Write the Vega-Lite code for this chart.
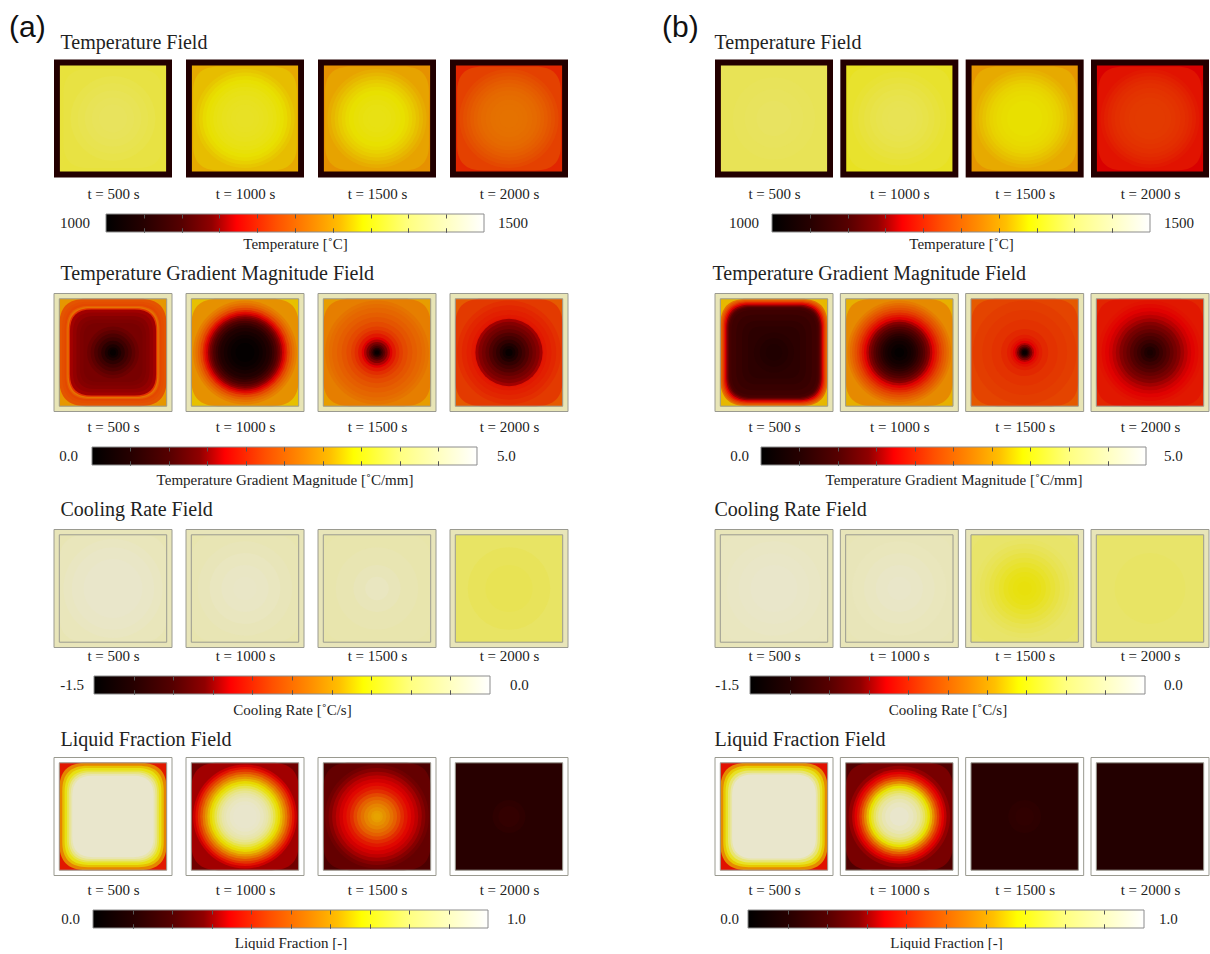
{
  "$schema": "https://vega.github.io/schema/vega-lite/v6.json",
  "background": "white",
  "padding": {"left": 9, "top": 13, "right": 0, "bottom": 0},
  "config": {"view": {"stroke": null}, "font": "Liberation Serif"},
  "datasets": {
    "bars": [
      {"f": "T", "lo": 1000, "hi": 1500, "lt": "1000", "ht": "1500"},
      {"f": "G", "lo": 0, "hi": 5, "lt": "0.0", "ht": "5.0"},
      {"f": "C", "lo": -1.5, "hi": 0, "lt": "-1.5", "ht": "0.0"},
      {"f": "L", "lo": 0, "hi": 1, "lt": "0.0", "ht": "1.0"}
    ],
    "frames": [
      {"f":"G","t":500,"w":0.5},{"f":"G","t":500,"w":0.455},{"f":"G","t":1000,"w":0.5},{"f":"G","t":1000,"w":0.455},{"f":"G","t":1500,"w":0.5},{"f":"G","t":1500,"w":0.455},{"f":"G","t":2000,"w":0.5},{"f":"G","t":2000,"w":0.455},
      {"f":"C","t":500,"w":0.5},{"f":"C","t":500,"w":0.455},{"f":"C","t":1000,"w":0.5},{"f":"C","t":1000,"w":0.455},{"f":"C","t":1500,"w":0.5},{"f":"C","t":1500,"w":0.455},{"f":"C","t":2000,"w":0.5},{"f":"C","t":2000,"w":0.455},
      {"f":"L","t":500,"w":0.5},{"f":"L","t":500,"w":0.455},{"f":"L","t":1000,"w":0.5},{"f":"L","t":1000,"w":0.455},{"f":"L","t":1500,"w":0.5},{"f":"L","t":1500,"w":0.455},{"f":"L","t":2000,"w":0.5},{"f":"L","t":2000,"w":0.455}
    ],
    "fields": [
      {"p":"a","f":"T","t":500,"k":"s","w":0.5,"v":1050},{"p":"a","f":"T","t":500,"k":"s","w":0.45,"v":1372},{"p":"a","f":"T","t":500,"k":"r","w":0.42,"v":1376},{"p":"a","f":"T","t":500,"k":"c","w":0.36,"v":1380},{"p":"a","f":"T","t":500,"k":"c","w":0.3,"v":1383},{"p":"a","f":"T","t":500,"k":"c","w":0.24,"v":1386},{"p":"a","f":"T","t":500,"k":"c","w":0.18,"v":1388},{"p":"a","f":"T","t":500,"k":"c","w":0.12,"v":1390},
      {"p":"a","f":"T","t":1000,"k":"s","w":0.5,"v":1050},{"p":"a","f":"T","t":1000,"k":"s","w":0.45,"v":1305},{"p":"a","f":"T","t":1000,"k":"r","w":0.44,"v":1318},{"p":"a","f":"T","t":1000,"k":"c","w":0.42,"v":1324},{"p":"a","f":"T","t":1000,"k":"c","w":0.39,"v":1330},{"p":"a","f":"T","t":1000,"k":"c","w":0.36,"v":1336},{"p":"a","f":"T","t":1000,"k":"c","w":0.33,"v":1341},{"p":"a","f":"T","t":1000,"k":"c","w":0.3,"v":1345},{"p":"a","f":"T","t":1000,"k":"c","w":0.27,"v":1349},{"p":"a","f":"T","t":1000,"k":"c","w":0.24,"v":1352},{"p":"a","f":"T","t":1000,"k":"c","w":0.2,"v":1355},{"p":"a","f":"T","t":1000,"k":"c","w":0.16,"v":1357},{"p":"a","f":"T","t":1000,"k":"c","w":0.12,"v":1359},{"p":"a","f":"T","t":1000,"k":"c","w":0.08,"v":1360},
      {"p":"a","f":"T","t":1500,"k":"s","w":0.5,"v":1050},{"p":"a","f":"T","t":1500,"k":"s","w":0.45,"v":1285},{"p":"a","f":"T","t":1500,"k":"r","w":0.44,"v":1300},{"p":"a","f":"T","t":1500,"k":"c","w":0.42,"v":1307},{"p":"a","f":"T","t":1500,"k":"c","w":0.39,"v":1314},{"p":"a","f":"T","t":1500,"k":"c","w":0.36,"v":1320},{"p":"a","f":"T","t":1500,"k":"c","w":0.33,"v":1326},{"p":"a","f":"T","t":1500,"k":"c","w":0.3,"v":1331},{"p":"a","f":"T","t":1500,"k":"c","w":0.27,"v":1336},{"p":"a","f":"T","t":1500,"k":"c","w":0.24,"v":1340},{"p":"a","f":"T","t":1500,"k":"c","w":0.2,"v":1344},{"p":"a","f":"T","t":1500,"k":"c","w":0.16,"v":1347},{"p":"a","f":"T","t":1500,"k":"c","w":0.12,"v":1349},{"p":"a","f":"T","t":1500,"k":"c","w":0.08,"v":1350},
      {"p":"a","f":"T","t":2000,"k":"s","w":0.5,"v":1050},{"p":"a","f":"T","t":2000,"k":"s","w":0.45,"v":1200},{"p":"a","f":"T","t":2000,"k":"r","w":0.44,"v":1220},{"p":"a","f":"T","t":2000,"k":"c","w":0.42,"v":1226},{"p":"a","f":"T","t":2000,"k":"c","w":0.39,"v":1232},{"p":"a","f":"T","t":2000,"k":"c","w":0.36,"v":1237},{"p":"a","f":"T","t":2000,"k":"c","w":0.33,"v":1242},{"p":"a","f":"T","t":2000,"k":"c","w":0.3,"v":1246},{"p":"a","f":"T","t":2000,"k":"c","w":0.27,"v":1250},{"p":"a","f":"T","t":2000,"k":"c","w":0.24,"v":1253},{"p":"a","f":"T","t":2000,"k":"c","w":0.2,"v":1256},{"p":"a","f":"T","t":2000,"k":"c","w":0.16,"v":1258},{"p":"a","f":"T","t":2000,"k":"c","w":0.12,"v":1259},{"p":"a","f":"T","t":2000,"k":"c","w":0.08,"v":1260},
      {"p":"b","f":"T","t":500,"k":"s","w":0.5,"v":1050},{"p":"b","f":"T","t":500,"k":"s","w":0.45,"v":1386},{"p":"b","f":"T","t":500,"k":"c","w":0.35,"v":1388},{"p":"b","f":"T","t":500,"k":"c","w":0.25,"v":1390},{"p":"b","f":"T","t":500,"k":"c","w":0.15,"v":1392},
      {"p":"b","f":"T","t":1000,"k":"s","w":0.5,"v":1050},{"p":"b","f":"T","t":1000,"k":"s","w":0.45,"v":1358},{"p":"b","f":"T","t":1000,"k":"r","w":0.44,"v":1364},{"p":"b","f":"T","t":1000,"k":"c","w":0.4,"v":1368},{"p":"b","f":"T","t":1000,"k":"c","w":0.35,"v":1372},{"p":"b","f":"T","t":1000,"k":"c","w":0.3,"v":1376},{"p":"b","f":"T","t":1000,"k":"c","w":0.25,"v":1379},{"p":"b","f":"T","t":1000,"k":"c","w":0.2,"v":1382},{"p":"b","f":"T","t":1000,"k":"c","w":0.15,"v":1384},{"p":"b","f":"T","t":1000,"k":"c","w":0.1,"v":1385},
      {"p":"b","f":"T","t":1500,"k":"s","w":0.5,"v":1050},{"p":"b","f":"T","t":1500,"k":"s","w":0.45,"v":1290},{"p":"b","f":"T","t":1500,"k":"r","w":0.44,"v":1305},{"p":"b","f":"T","t":1500,"k":"c","w":0.42,"v":1311},{"p":"b","f":"T","t":1500,"k":"c","w":0.39,"v":1317},{"p":"b","f":"T","t":1500,"k":"c","w":0.36,"v":1322},{"p":"b","f":"T","t":1500,"k":"c","w":0.33,"v":1327},{"p":"b","f":"T","t":1500,"k":"c","w":0.3,"v":1331},{"p":"b","f":"T","t":1500,"k":"c","w":0.27,"v":1334},{"p":"b","f":"T","t":1500,"k":"c","w":0.24,"v":1336},{"p":"b","f":"T","t":1500,"k":"c","w":0.2,"v":1338},{"p":"b","f":"T","t":1500,"k":"c","w":0.15,"v":1340},
      {"p":"b","f":"T","t":2000,"k":"s","w":0.5,"v":1050},{"p":"b","f":"T","t":2000,"k":"s","w":0.45,"v":1170},{"p":"b","f":"T","t":2000,"k":"r","w":0.44,"v":1186},{"p":"b","f":"T","t":2000,"k":"c","w":0.42,"v":1191},{"p":"b","f":"T","t":2000,"k":"c","w":0.39,"v":1196},{"p":"b","f":"T","t":2000,"k":"c","w":0.36,"v":1200},{"p":"b","f":"T","t":2000,"k":"c","w":0.33,"v":1204},{"p":"b","f":"T","t":2000,"k":"c","w":0.3,"v":1207},{"p":"b","f":"T","t":2000,"k":"c","w":0.26,"v":1210},{"p":"b","f":"T","t":2000,"k":"c","w":0.22,"v":1212},{"p":"b","f":"T","t":2000,"k":"c","w":0.18,"v":1214},{"p":"b","f":"T","t":2000,"k":"c","w":0.13,"v":1215},

      {"p":"a","f":"G","t":500,"k":"s","w":0.5,"v":4.7},{"p":"a","f":"G","t":500,"k":"s","w":0.455,"v":2.9},{"p":"a","f":"G","t":500,"k":"r","w":0.455,"v":2.35},{"p":"a","f":"G","t":500,"k":"r","w":0.43,"v":2.3},{"p":"a","f":"G","t":500,"k":"r","w":0.41,"v":2.25},{"p":"a","f":"G","t":500,"k":"r","w":0.395,"v":2.45},{"p":"a","f":"G","t":500,"k":"r","w":0.385,"v":2.6},{"p":"a","f":"G","t":500,"k":"r","w":0.375,"v":2.1},{"p":"a","f":"G","t":500,"k":"r","w":0.365,"v":1.5},{"p":"a","f":"G","t":500,"k":"r","w":0.34,"v":1.45},{"p":"a","f":"G","t":500,"k":"r","w":0.31,"v":1.4},{"p":"a","f":"G","t":500,"k":"r","w":0.28,"v":1.35},{"p":"a","f":"G","t":500,"k":"r","w":0.25,"v":1.3},{"p":"a","f":"G","t":500,"k":"c","w":0.22,"v":1.2},{"p":"a","f":"G","t":500,"k":"c","w":0.19,"v":1.1},{"p":"a","f":"G","t":500,"k":"c","w":0.16,"v":0.95},{"p":"a","f":"G","t":500,"k":"c","w":0.13,"v":0.8},{"p":"a","f":"G","t":500,"k":"c","w":0.1,"v":0.6},{"p":"a","f":"G","t":500,"k":"c","w":0.07,"v":0.4},{"p":"a","f":"G","t":500,"k":"c","w":0.045,"v":0.22},{"p":"a","f":"G","t":500,"k":"c","w":0.025,"v":0.08},
      {"p":"a","f":"G","t":1000,"k":"s","w":0.5,"v":4.7},{"p":"a","f":"G","t":1000,"k":"s","w":0.455,"v":3.2},{"p":"a","f":"G","t":1000,"k":"r","w":0.455,"v":2.85},{"p":"a","f":"G","t":1000,"k":"c","w":0.44,"v":2.72},{"p":"a","f":"G","t":1000,"k":"c","w":0.42,"v":2.6},{"p":"a","f":"G","t":1000,"k":"c","w":0.4,"v":2.45},{"p":"a","f":"G","t":1000,"k":"c","w":0.38,"v":2.25},{"p":"a","f":"G","t":1000,"k":"c","w":0.36,"v":2.02},{"p":"a","f":"G","t":1000,"k":"c","w":0.345,"v":1.82},{"p":"a","f":"G","t":1000,"k":"c","w":0.33,"v":1.65},{"p":"a","f":"G","t":1000,"k":"c","w":0.315,"v":1.47},{"p":"a","f":"G","t":1000,"k":"c","w":0.3,"v":1.3},{"p":"a","f":"G","t":1000,"k":"c","w":0.285,"v":1.13},{"p":"a","f":"G","t":1000,"k":"c","w":0.27,"v":0.95},{"p":"a","f":"G","t":1000,"k":"c","w":0.25,"v":0.75},{"p":"a","f":"G","t":1000,"k":"c","w":0.23,"v":0.58},{"p":"a","f":"G","t":1000,"k":"c","w":0.21,"v":0.45},{"p":"a","f":"G","t":1000,"k":"c","w":0.18,"v":0.33},{"p":"a","f":"G","t":1000,"k":"c","w":0.15,"v":0.22},{"p":"a","f":"G","t":1000,"k":"c","w":0.12,"v":0.13},{"p":"a","f":"G","t":1000,"k":"c","w":0.08,"v":0.06},
      {"p":"a","f":"G","t":1500,"k":"s","w":0.5,"v":4.7},{"p":"a","f":"G","t":1500,"k":"s","w":0.455,"v":2.95},{"p":"a","f":"G","t":1500,"k":"r","w":0.455,"v":2.7},{"p":"a","f":"G","t":1500,"k":"c","w":0.44,"v":2.62},{"p":"a","f":"G","t":1500,"k":"c","w":0.41,"v":2.56},{"p":"a","f":"G","t":1500,"k":"c","w":0.38,"v":2.5},{"p":"a","f":"G","t":1500,"k":"c","w":0.34,"v":2.43},{"p":"a","f":"G","t":1500,"k":"c","w":0.3,"v":2.36},{"p":"a","f":"G","t":1500,"k":"c","w":0.26,"v":2.27},{"p":"a","f":"G","t":1500,"k":"c","w":0.22,"v":2.17},{"p":"a","f":"G","t":1500,"k":"c","w":0.19,"v":2.05},{"p":"a","f":"G","t":1500,"k":"c","w":0.16,"v":1.9},{"p":"a","f":"G","t":1500,"k":"c","w":0.13,"v":1.72},{"p":"a","f":"G","t":1500,"k":"c","w":0.11,"v":1.55},{"p":"a","f":"G","t":1500,"k":"c","w":0.09,"v":1.35},{"p":"a","f":"G","t":1500,"k":"c","w":0.07,"v":1.1},{"p":"a","f":"G","t":1500,"k":"c","w":0.055,"v":0.85},{"p":"a","f":"G","t":1500,"k":"c","w":0.04,"v":0.55},{"p":"a","f":"G","t":1500,"k":"c","w":0.028,"v":0.3},{"p":"a","f":"G","t":1500,"k":"c","w":0.018,"v":0.1},
      {"p":"a","f":"G","t":2000,"k":"s","w":0.5,"v":4.7},{"p":"a","f":"G","t":2000,"k":"s","w":0.455,"v":2.4},{"p":"a","f":"G","t":2000,"k":"r","w":0.455,"v":2.15},{"p":"a","f":"G","t":2000,"k":"c","w":0.44,"v":2.07},{"p":"a","f":"G","t":2000,"k":"c","w":0.4,"v":2.0},{"p":"a","f":"G","t":2000,"k":"c","w":0.36,"v":1.95},{"p":"a","f":"G","t":2000,"k":"c","w":0.32,"v":1.9},{"p":"a","f":"G","t":2000,"k":"c","w":0.295,"v":1.86},{"p":"a","f":"G","t":2000,"k":"c","w":0.285,"v":1.5},{"p":"a","f":"G","t":2000,"k":"c","w":0.26,"v":1.4},{"p":"a","f":"G","t":2000,"k":"c","w":0.23,"v":1.28},{"p":"a","f":"G","t":2000,"k":"c","w":0.2,"v":1.15},{"p":"a","f":"G","t":2000,"k":"c","w":0.17,"v":1.0},{"p":"a","f":"G","t":2000,"k":"c","w":0.14,"v":0.83},{"p":"a","f":"G","t":2000,"k":"c","w":0.11,"v":0.65},{"p":"a","f":"G","t":2000,"k":"c","w":0.08,"v":0.45},{"p":"a","f":"G","t":2000,"k":"c","w":0.055,"v":0.28},{"p":"a","f":"G","t":2000,"k":"c","w":0.03,"v":0.12},
      {"p":"b","f":"G","t":500,"k":"s","w":0.5,"v":4.7},{"p":"b","f":"G","t":500,"k":"s","w":0.455,"v":3.15},{"p":"b","f":"G","t":500,"k":"r","w":0.455,"v":2.6},{"p":"b","f":"G","t":500,"k":"r","w":0.445,"v":2.4},{"p":"b","f":"G","t":500,"k":"r","w":0.435,"v":2.2},{"p":"b","f":"G","t":500,"k":"r","w":0.425,"v":1.95},{"p":"b","f":"G","t":500,"k":"r","w":0.415,"v":1.7},{"p":"b","f":"G","t":500,"k":"r","w":0.405,"v":1.45},{"p":"b","f":"G","t":500,"k":"r","w":0.395,"v":1.2},{"p":"b","f":"G","t":500,"k":"r","w":0.385,"v":1.0},{"p":"b","f":"G","t":500,"k":"r","w":0.375,"v":0.88},{"p":"b","f":"G","t":500,"k":"r","w":0.36,"v":0.8},{"p":"b","f":"G","t":500,"k":"r","w":0.32,"v":0.72},{"p":"b","f":"G","t":500,"k":"r","w":0.27,"v":0.65},{"p":"b","f":"G","t":500,"k":"r","w":0.22,"v":0.6},{"p":"b","f":"G","t":500,"k":"c","w":0.17,"v":0.55},{"p":"b","f":"G","t":500,"k":"c","w":0.12,"v":0.5},{"p":"b","f":"G","t":500,"k":"c","w":0.07,"v":0.45},
      {"p":"b","f":"G","t":1000,"k":"s","w":0.5,"v":4.7},{"p":"b","f":"G","t":1000,"k":"s","w":0.455,"v":3.1},{"p":"b","f":"G","t":1000,"k":"r","w":0.455,"v":2.8},{"p":"b","f":"G","t":1000,"k":"c","w":0.44,"v":2.68},{"p":"b","f":"G","t":1000,"k":"c","w":0.42,"v":2.57},{"p":"b","f":"G","t":1000,"k":"c","w":0.4,"v":2.45},{"p":"b","f":"G","t":1000,"k":"c","w":0.38,"v":2.33},{"p":"b","f":"G","t":1000,"k":"c","w":0.36,"v":2.2},{"p":"b","f":"G","t":1000,"k":"c","w":0.34,"v":2.05},{"p":"b","f":"G","t":1000,"k":"c","w":0.32,"v":1.9},{"p":"b","f":"G","t":1000,"k":"c","w":0.3,"v":1.75},{"p":"b","f":"G","t":1000,"k":"c","w":0.28,"v":1.57},{"p":"b","f":"G","t":1000,"k":"c","w":0.26,"v":1.4},{"p":"b","f":"G","t":1000,"k":"c","w":0.24,"v":1.22},{"p":"b","f":"G","t":1000,"k":"c","w":0.22,"v":1.05},{"p":"b","f":"G","t":1000,"k":"c","w":0.2,"v":0.9},{"p":"b","f":"G","t":1000,"k":"c","w":0.18,"v":0.75},{"p":"b","f":"G","t":1000,"k":"c","w":0.16,"v":0.6},{"p":"b","f":"G","t":1000,"k":"c","w":0.14,"v":0.47},{"p":"b","f":"G","t":1000,"k":"c","w":0.12,"v":0.35},{"p":"b","f":"G","t":1000,"k":"c","w":0.1,"v":0.25},{"p":"b","f":"G","t":1000,"k":"c","w":0.07,"v":0.14},{"p":"b","f":"G","t":1000,"k":"c","w":0.04,"v":0.06},
      {"p":"b","f":"G","t":1500,"k":"s","w":0.5,"v":4.7},{"p":"b","f":"G","t":1500,"k":"s","w":0.455,"v":2.4},{"p":"b","f":"G","t":1500,"k":"r","w":0.455,"v":2.22},{"p":"b","f":"G","t":1500,"k":"c","w":0.44,"v":2.17},{"p":"b","f":"G","t":1500,"k":"c","w":0.36,"v":2.13},{"p":"b","f":"G","t":1500,"k":"c","w":0.28,"v":2.09},{"p":"b","f":"G","t":1500,"k":"c","w":0.2,"v":2.02},{"p":"b","f":"G","t":1500,"k":"c","w":0.15,"v":1.94},{"p":"b","f":"G","t":1500,"k":"c","w":0.12,"v":1.85},{"p":"b","f":"G","t":1500,"k":"c","w":0.1,"v":1.73},{"p":"b","f":"G","t":1500,"k":"c","w":0.08,"v":1.55},{"p":"b","f":"G","t":1500,"k":"c","w":0.065,"v":1.3},{"p":"b","f":"G","t":1500,"k":"c","w":0.05,"v":1.0},{"p":"b","f":"G","t":1500,"k":"c","w":0.038,"v":0.65},{"p":"b","f":"G","t":1500,"k":"c","w":0.027,"v":0.3},{"p":"b","f":"G","t":1500,"k":"c","w":0.018,"v":0.1},
      {"p":"b","f":"G","t":2000,"k":"s","w":0.5,"v":4.7},{"p":"b","f":"G","t":2000,"k":"s","w":0.455,"v":2.0},{"p":"b","f":"G","t":2000,"k":"r","w":0.455,"v":1.9},{"p":"b","f":"G","t":2000,"k":"c","w":0.44,"v":1.86},{"p":"b","f":"G","t":2000,"k":"c","w":0.41,"v":1.8},{"p":"b","f":"G","t":2000,"k":"c","w":0.38,"v":1.74},{"p":"b","f":"G","t":2000,"k":"c","w":0.35,"v":1.67},{"p":"b","f":"G","t":2000,"k":"c","w":0.32,"v":1.59},{"p":"b","f":"G","t":2000,"k":"c","w":0.29,"v":1.5},{"p":"b","f":"G","t":2000,"k":"c","w":0.26,"v":1.4},{"p":"b","f":"G","t":2000,"k":"c","w":0.23,"v":1.28},{"p":"b","f":"G","t":2000,"k":"c","w":0.2,"v":1.16},{"p":"b","f":"G","t":2000,"k":"c","w":0.17,"v":1.03},{"p":"b","f":"G","t":2000,"k":"c","w":0.14,"v":0.9},{"p":"b","f":"G","t":2000,"k":"c","w":0.11,"v":0.75},{"p":"b","f":"G","t":2000,"k":"c","w":0.08,"v":0.6},{"p":"b","f":"G","t":2000,"k":"c","w":0.05,"v":0.45},{"p":"b","f":"G","t":2000,"k":"c","w":0.025,"v":0.35},

      {"p":"a","f":"C","t":500,"k":"s","w":0.5,"v":-0.08},{"p":"a","f":"C","t":500,"k":"s","w":0.455,"v":-0.1},{"p":"a","f":"C","t":500,"k":"r","w":0.455,"v":-0.07},{"p":"a","f":"C","t":500,"k":"c","w":0.42,"v":-0.045},{"p":"a","f":"C","t":500,"k":"c","w":0.35,"v":-0.025},{"p":"a","f":"C","t":500,"k":"c","w":0.25,"v":-0.01},
      {"p":"a","f":"C","t":1000,"k":"s","w":0.5,"v":-0.08},{"p":"a","f":"C","t":1000,"k":"s","w":0.455,"v":-0.12},{"p":"a","f":"C","t":1000,"k":"r","w":0.455,"v":-0.1},{"p":"a","f":"C","t":1000,"k":"c","w":0.4,"v":-0.08},{"p":"a","f":"C","t":1000,"k":"c","w":0.3,"v":-0.055},{"p":"a","f":"C","t":1000,"k":"c","w":0.2,"v":-0.035},{"p":"a","f":"C","t":1000,"k":"c","w":0.1,"v":-0.025},
      {"p":"a","f":"C","t":1500,"k":"s","w":0.5,"v":-0.08},{"p":"a","f":"C","t":1500,"k":"s","w":0.455,"v":-0.14},{"p":"a","f":"C","t":1500,"k":"r","w":0.455,"v":-0.13},{"p":"a","f":"C","t":1500,"k":"c","w":0.35,"v":-0.11},{"p":"a","f":"C","t":1500,"k":"c","w":0.2,"v":-0.08},{"p":"a","f":"C","t":1500,"k":"c","w":0.1,"v":-0.05},
      {"p":"a","f":"C","t":2000,"k":"s","w":0.5,"v":-0.08},{"p":"a","f":"C","t":2000,"k":"s","w":0.455,"v":-0.32},{"p":"a","f":"C","t":2000,"k":"c","w":0.35,"v":-0.335},{"p":"a","f":"C","t":2000,"k":"c","w":0.2,"v":-0.345},
      {"p":"b","f":"C","t":500,"k":"s","w":0.5,"v":-0.08},{"p":"b","f":"C","t":500,"k":"s","w":0.455,"v":-0.06},{"p":"b","f":"C","t":500,"k":"r","w":0.455,"v":-0.05},{"p":"b","f":"C","t":500,"k":"c","w":0.4,"v":-0.035},{"p":"b","f":"C","t":500,"k":"c","w":0.3,"v":-0.02},{"p":"b","f":"C","t":500,"k":"c","w":0.2,"v":-0.01},
      {"p":"b","f":"C","t":1000,"k":"s","w":0.5,"v":-0.08},{"p":"b","f":"C","t":1000,"k":"s","w":0.455,"v":-0.09},{"p":"b","f":"C","t":1000,"k":"r","w":0.455,"v":-0.08},{"p":"b","f":"C","t":1000,"k":"c","w":0.4,"v":-0.065},{"p":"b","f":"C","t":1000,"k":"c","w":0.3,"v":-0.045},{"p":"b","f":"C","t":1000,"k":"c","w":0.2,"v":-0.025},{"p":"b","f":"C","t":1000,"k":"c","w":0.1,"v":-0.012},
      {"p":"b","f":"C","t":1500,"k":"s","w":0.5,"v":-0.08},{"p":"b","f":"C","t":1500,"k":"s","w":0.455,"v":-0.3},{"p":"b","f":"C","t":1500,"k":"r","w":0.455,"v":-0.31},{"p":"b","f":"C","t":1500,"k":"c","w":0.42,"v":-0.32},{"p":"b","f":"C","t":1500,"k":"c","w":0.38,"v":-0.335},{"p":"b","f":"C","t":1500,"k":"c","w":0.34,"v":-0.35},{"p":"b","f":"C","t":1500,"k":"c","w":0.3,"v":-0.37},{"p":"b","f":"C","t":1500,"k":"c","w":0.26,"v":-0.39},{"p":"b","f":"C","t":1500,"k":"c","w":0.22,"v":-0.41},{"p":"b","f":"C","t":1500,"k":"c","w":0.18,"v":-0.43},{"p":"b","f":"C","t":1500,"k":"c","w":0.14,"v":-0.445},{"p":"b","f":"C","t":1500,"k":"c","w":0.1,"v":-0.455},{"p":"b","f":"C","t":1500,"k":"c","w":0.06,"v":-0.46},
      {"p":"b","f":"C","t":2000,"k":"s","w":0.5,"v":-0.08},{"p":"b","f":"C","t":2000,"k":"s","w":0.455,"v":-0.31},{"p":"b","f":"C","t":2000,"k":"c","w":0.3,"v":-0.32},

      {"p":"a","f":"L","t":500,"k":"s","w":0.455,"v":0.38},{"p":"a","f":"L","t":500,"k":"r","w":0.455,"v":0.55},{"p":"a","f":"L","t":500,"k":"r","w":0.43,"v":0.64},{"p":"a","f":"L","t":500,"k":"r","w":0.41,"v":0.7},{"p":"a","f":"L","t":500,"k":"r","w":0.39,"v":0.76},{"p":"a","f":"L","t":500,"k":"r","w":0.375,"v":0.84},{"p":"a","f":"L","t":500,"k":"r","w":0.36,"v":0.92},{"p":"a","f":"L","t":500,"k":"r","w":0.345,"v":1.0},
      {"p":"a","f":"L","t":1000,"k":"s","w":0.455,"v":0.25},{"p":"a","f":"L","t":1000,"k":"r","w":0.455,"v":0.3},{"p":"a","f":"L","t":1000,"k":"c","w":0.44,"v":0.33},{"p":"a","f":"L","t":1000,"k":"c","w":0.42,"v":0.37},{"p":"a","f":"L","t":1000,"k":"c","w":0.4,"v":0.42},{"p":"a","f":"L","t":1000,"k":"c","w":0.38,"v":0.47},{"p":"a","f":"L","t":1000,"k":"c","w":0.36,"v":0.53},{"p":"a","f":"L","t":1000,"k":"c","w":0.34,"v":0.58},{"p":"a","f":"L","t":1000,"k":"c","w":0.32,"v":0.63},{"p":"a","f":"L","t":1000,"k":"c","w":0.3,"v":0.67},{"p":"a","f":"L","t":1000,"k":"c","w":0.28,"v":0.71},{"p":"a","f":"L","t":1000,"k":"c","w":0.26,"v":0.76},{"p":"a","f":"L","t":1000,"k":"c","w":0.24,"v":0.81},{"p":"a","f":"L","t":1000,"k":"c","w":0.22,"v":0.86},{"p":"a","f":"L","t":1000,"k":"c","w":0.2,"v":0.9},{"p":"a","f":"L","t":1000,"k":"c","w":0.18,"v":0.93},{"p":"a","f":"L","t":1000,"k":"c","w":0.16,"v":0.96},{"p":"a","f":"L","t":1000,"k":"c","w":0.13,"v":0.99},{"p":"a","f":"L","t":1000,"k":"c","w":0.1,"v":1.0},
      {"p":"a","f":"L","t":1500,"k":"s","w":0.455,"v":0.19},{"p":"a","f":"L","t":1500,"k":"r","w":0.455,"v":0.23},{"p":"a","f":"L","t":1500,"k":"c","w":0.44,"v":0.25},{"p":"a","f":"L","t":1500,"k":"c","w":0.41,"v":0.28},{"p":"a","f":"L","t":1500,"k":"c","w":0.38,"v":0.3},{"p":"a","f":"L","t":1500,"k":"c","w":0.35,"v":0.32},{"p":"a","f":"L","t":1500,"k":"c","w":0.32,"v":0.335},{"p":"a","f":"L","t":1500,"k":"c","w":0.29,"v":0.355},{"p":"a","f":"L","t":1500,"k":"c","w":0.26,"v":0.38},{"p":"a","f":"L","t":1500,"k":"c","w":0.23,"v":0.41},{"p":"a","f":"L","t":1500,"k":"c","w":0.2,"v":0.45},{"p":"a","f":"L","t":1500,"k":"c","w":0.17,"v":0.49},{"p":"a","f":"L","t":1500,"k":"c","w":0.14,"v":0.52},{"p":"a","f":"L","t":1500,"k":"c","w":0.11,"v":0.55},{"p":"a","f":"L","t":1500,"k":"c","w":0.08,"v":0.57},{"p":"a","f":"L","t":1500,"k":"c","w":0.05,"v":0.59},{"p":"a","f":"L","t":1500,"k":"c","w":0.03,"v":0.6},
      {"p":"a","f":"L","t":2000,"k":"s","w":0.455,"v":0.11},{"p":"a","f":"L","t":2000,"k":"c","w":0.14,"v":0.125},{"p":"a","f":"L","t":2000,"k":"c","w":0.09,"v":0.135},
      {"p":"b","f":"L","t":500,"k":"s","w":0.455,"v":0.37},{"p":"b","f":"L","t":500,"k":"r","w":0.455,"v":0.56},{"p":"b","f":"L","t":500,"k":"r","w":0.43,"v":0.65},{"p":"b","f":"L","t":500,"k":"r","w":0.41,"v":0.72},{"p":"b","f":"L","t":500,"k":"r","w":0.39,"v":0.8},{"p":"b","f":"L","t":500,"k":"r","w":0.37,"v":0.9},{"p":"b","f":"L","t":500,"k":"r","w":0.355,"v":1.0},
      {"p":"b","f":"L","t":1000,"k":"s","w":0.455,"v":0.2},{"p":"b","f":"L","t":1000,"k":"r","w":0.455,"v":0.26},{"p":"b","f":"L","t":1000,"k":"c","w":0.43,"v":0.29},{"p":"b","f":"L","t":1000,"k":"c","w":0.4,"v":0.32},{"p":"b","f":"L","t":1000,"k":"c","w":0.38,"v":0.345},{"p":"b","f":"L","t":1000,"k":"c","w":0.36,"v":0.38},{"p":"b","f":"L","t":1000,"k":"c","w":0.34,"v":0.43},{"p":"b","f":"L","t":1000,"k":"c","w":0.32,"v":0.49},{"p":"b","f":"L","t":1000,"k":"c","w":0.3,"v":0.56},{"p":"b","f":"L","t":1000,"k":"c","w":0.28,"v":0.63},{"p":"b","f":"L","t":1000,"k":"c","w":0.26,"v":0.68},{"p":"b","f":"L","t":1000,"k":"c","w":0.24,"v":0.73},{"p":"b","f":"L","t":1000,"k":"c","w":0.22,"v":0.78},{"p":"b","f":"L","t":1000,"k":"c","w":0.2,"v":0.83},{"p":"b","f":"L","t":1000,"k":"c","w":0.18,"v":0.88},{"p":"b","f":"L","t":1000,"k":"c","w":0.15,"v":0.93},{"p":"b","f":"L","t":1000,"k":"c","w":0.12,"v":0.97},{"p":"b","f":"L","t":1000,"k":"c","w":0.08,"v":1.0},
      {"p":"b","f":"L","t":1500,"k":"s","w":0.455,"v":0.11},{"p":"b","f":"L","t":1500,"k":"c","w":0.14,"v":0.122},{"p":"b","f":"L","t":1500,"k":"c","w":0.08,"v":0.128},
      {"p":"b","f":"L","t":2000,"k":"s","w":0.455,"v":0.1}
    ]
  },
  "columns": 2,
  "align": "each",
  "spacing": {"row": 11, "column": 91},
  "resolve": {"scale": {"color": "independent"}},
  "concat": [
    {
      "width": 559, "height": 119,
      "title": {"text": "(a)", "anchor": "start", "frame": "group", "offset": -11, "font": "Liberation Sans", "fontSize": 30, "fontWeight": "normal", "color": "#111111"},
      "data": {"name": "fields"},
      "transform": [{"filter": "datum.p === 'a' && datum.f === 'T'"}],
      "mark": {"type": "point", "filled": true, "opacity": 1, "strokeWidth": 0},
      "encoding": {
        "x": {"field": "t", "type": "quantitative", "scale": {"domain": [106.06, 2223.48], "nice": false, "zero": false},
              "axis": {"values": [500, 1000, 1500, 2000], "labelExpr": "'t = ' + datum.value + ' s'", "domain": false, "ticks": false, "grid": false, "title": null, "labelFont": "Liberation Serif", "labelFontSize": 15, "labelColor": "#222222", "labelPadding": 8.5, "labelFlush": false, "labelOverlap": false}},
        "y": {"field": "f", "type": "nominal", "scale": {"type": "point"},
              "axis": {"title": "Temperature Field", "titleAngle": 0, "titleX": 51, "titleY": -11, "titleAlign": "left", "titleBaseline": "alphabetic", "titleFont": "Liberation Serif", "titleFontSize": 20, "titleFontWeight": "normal", "titleColor": "#222222", "labels": false, "ticks": false, "domain": false, "grid": false, "minExtent": 0, "maxExtent": 0}},
        "size": {"field": "w", "type": "quantitative", "scale": {"type": "pow", "exponent": 2, "domain": [0, 0.5], "range": [0, 13924]}, "legend": null},
        "shape": {"field": "k", "type": "nominal", "scale": {"domain": ["s", "r", "c"], "range": ["square", "M-1,-0.5C-1,-0.84 -0.84,-1 -0.5,-1L0.5,-1C0.84,-1 1,-0.84 1,-0.5L1,0.5C1,0.84 0.84,1 0.5,1L-0.5,1C-0.84,1 -1,0.84 -1,0.5Z", "circle"]}, "legend": null},
        "color": {"field": "v", "type": "quantitative", "scale": {"domain": [1000, 1050, 1100, 1140, 1172.5, 1225, 1275, 1310, 1340, 1400, 1450, 1500], "range": ["#000000", "#230000", "#500000", "#850000", "#e00000", "#e44800", "#e68400", "#e7b000", "#e8e000", "#e8e470", "#e8e5a8", "#e9e6cc"], "interpolate": "rgb"}, "legend": null},
        "order": {"field": "w", "sort": "descending"}
      }
    },
    {
      "width": 547, "height": 119,
      "title": {"text": "(b)", "anchor": "start", "frame": "group", "offset": -11, "font": "Liberation Sans", "fontSize": 30, "fontWeight": "normal", "color": "#111111"},
      "data": {"name": "fields"},
      "transform": [{"filter": "datum.p === 'b' && datum.f === 'T'"}],
      "mark": {"type": "point", "filled": true, "opacity": 1, "strokeWidth": 0},
      "encoding": {
        "x": {"field": "t", "type": "quantitative", "scale": {"domain": [53.19, 2235.37], "nice": false, "zero": false},
              "axis": {"values": [500, 1000, 1500, 2000], "labelExpr": "'t = ' + datum.value + ' s'", "domain": false, "ticks": false, "grid": false, "title": null, "labelFont": "Liberation Serif", "labelFontSize": 15, "labelColor": "#222222", "labelPadding": 8.5, "labelFlush": false, "labelOverlap": false}},
        "y": {"field": "f", "type": "nominal", "scale": {"type": "point"},
              "axis": {"title": "Temperature Field", "titleAngle": 0, "titleX": 52, "titleY": -11, "titleAlign": "left", "titleBaseline": "alphabetic", "titleFont": "Liberation Serif", "titleFontSize": 20, "titleFontWeight": "normal", "titleColor": "#222222", "labels": false, "ticks": false, "domain": false, "grid": false, "minExtent": 0, "maxExtent": 0}},
        "size": {"field": "w", "type": "quantitative", "scale": {"type": "pow", "exponent": 2, "domain": [0, 0.5], "range": [0, 13924]}, "legend": null},
        "shape": {"field": "k", "type": "nominal", "scale": {"domain": ["s", "r", "c"], "range": ["square", "M-1,-0.5C-1,-0.84 -0.84,-1 -0.5,-1L0.5,-1C0.84,-1 1,-0.84 1,-0.5L1,0.5C1,0.84 0.84,1 0.5,1L-0.5,1C-0.84,1 -1,0.84 -1,0.5Z", "circle"]}, "legend": null},
        "color": {"field": "v", "type": "quantitative", "scale": {"domain": [1000, 1050, 1100, 1140, 1172.5, 1225, 1275, 1310, 1340, 1400, 1450, 1500], "range": ["#000000", "#230000", "#500000", "#850000", "#e00000", "#e44800", "#e68400", "#e7b000", "#e8e000", "#e8e470", "#e8e5a8", "#e9e6cc"], "interpolate": "rgb"}, "legend": null},
        "order": {"field": "w", "sort": "descending"}
      }
    },
    {
      "width": 559, "height": 18,
      "data": {"name": "bars"},
      "transform": [{"filter": "datum.f === 'T'"}],
      "layer": [
        {"mark": {"type": "rect", "fill": {"gradient": "linear", "stops": [{"offset": 0, "color": "#000000"}, {"offset": 0.1, "color": "#260000"}, {"offset": 0.2, "color": "#560000"}, {"offset": 0.28, "color": "#900000"}, {"offset": 0.345, "color": "#ff0000"}, {"offset": 0.45, "color": "#ff5000"}, {"offset": 0.55, "color": "#ff9000"}, {"offset": 0.62, "color": "#ffc000"}, {"offset": 0.68, "color": "#ffff00"}, {"offset": 0.8, "color": "#ffff80"}, {"offset": 0.9, "color": "#ffffc0"}, {"offset": 1, "color": "#ffffff"}]}, "stroke": "#8c8c8c", "strokeWidth": 1},
         "encoding": {
           "x": {"field": "lo", "type": "quantitative", "scale": {"domain": [871.69, 1611.11], "nice": false, "zero": false},
                 "axis": {"values": [1050, 1100, 1150, 1200, 1250, 1300, 1350, 1400, 1450], "labels": false, "domain": false, "ticks": true, "tickSize": -4, "tickColor": "#555555", "tickWidth": 1, "grid": true, "gridDash": [4, 10], "gridColor": "#555555", "gridWidth": 1, "gridOpacity": 1, "zindex": 1, "title": "Temperature [˚C]", "titleFont": "Liberation Serif", "titleFontSize": 15, "titleFontWeight": "normal", "titleColor": "#222222", "titlePadding": 4, "titleX": 286}},
           "x2": {"field": "hi"}}},
        {"mark": {"type": "text", "align": "right", "dx": -16, "font": "Liberation Serif", "fontSize": 15, "color": "#222222"},
         "encoding": {"x": {"field": "lo", "type": "quantitative"}, "text": {"field": "lt"}}},
        {"mark": {"type": "text", "align": "left", "dx": 14, "font": "Liberation Serif", "fontSize": 15, "color": "#222222"},
         "encoding": {"x": {"field": "hi", "type": "quantitative"}, "text": {"field": "ht"}}}
      ]
    },
    {
      "width": 547, "height": 18,
      "data": {"name": "bars"},
      "transform": [{"filter": "datum.f === 'T'"}],
      "layer": [
        {"mark": {"type": "rect", "fill": {"gradient": "linear", "stops": [{"offset": 0, "color": "#000000"}, {"offset": 0.1, "color": "#260000"}, {"offset": 0.2, "color": "#560000"}, {"offset": 0.28, "color": "#900000"}, {"offset": 0.345, "color": "#ff0000"}, {"offset": 0.45, "color": "#ff5000"}, {"offset": 0.55, "color": "#ff9000"}, {"offset": 0.62, "color": "#ffc000"}, {"offset": 0.68, "color": "#ffff00"}, {"offset": 0.8, "color": "#ffff80"}, {"offset": 0.9, "color": "#ffffc0"}, {"offset": 1, "color": "#ffffff"}]}, "stroke": "#8c8c8c", "strokeWidth": 1},
         "encoding": {
           "x": {"field": "lo", "type": "quantitative", "scale": {"domain": [854.5, 1578.04], "nice": false, "zero": false},
                 "axis": {"values": [1050, 1100, 1150, 1200, 1250, 1300, 1350, 1400, 1450], "labels": false, "domain": false, "ticks": true, "tickSize": -4, "tickColor": "#555555", "tickWidth": 1, "grid": true, "gridDash": [4, 10], "gridColor": "#555555", "gridWidth": 1, "gridOpacity": 1, "zindex": 1, "title": "Temperature [˚C]", "titleFont": "Liberation Serif", "titleFontSize": 15, "titleFontWeight": "normal", "titleColor": "#222222", "titlePadding": 4, "titleX": 299}},
           "x2": {"field": "hi"}}},
        {"mark": {"type": "text", "align": "right", "dx": -13, "font": "Liberation Serif", "fontSize": 15, "color": "#222222"},
         "encoding": {"x": {"field": "lo", "type": "quantitative"}, "text": {"field": "lt"}}},
        {"mark": {"type": "text", "align": "left", "dx": 14, "font": "Liberation Serif", "fontSize": 15, "color": "#222222"},
         "encoding": {"x": {"field": "hi", "type": "quantitative"}, "text": {"field": "ht"}}}
      ]
    },
    {
      "width": 559, "height": 119,
      "encoding": {
        "x": {"field": "t", "type": "quantitative", "scale": {"domain": [106.06, 2223.48], "nice": false, "zero": false},
              "axis": {"values": [500, 1000, 1500, 2000], "labelExpr": "'t = ' + datum.value + ' s'", "domain": false, "ticks": false, "grid": false, "title": null, "labelFont": "Liberation Serif", "labelFontSize": 15, "labelColor": "#222222", "labelPadding": 7.5, "labelFlush": false, "labelOverlap": false}},
        "y": {"field": "f", "type": "nominal", "scale": {"type": "point"},
              "axis": {"title": "Temperature Gradient Magnitude Field", "titleAngle": 0, "titleX": 51, "titleY": -13.5, "titleAlign": "left", "titleBaseline": "alphabetic", "titleFont": "Liberation Serif", "titleFontSize": 20, "titleFontWeight": "normal", "titleColor": "#222222", "labels": false, "ticks": false, "domain": false, "grid": false, "minExtent": 0, "maxExtent": 0}}
      },
      "layer": [
        {"data": {"name": "fields"}, "transform": [{"filter": "datum.p === 'a' && datum.f === 'G'"}],
         "mark": {"type": "point", "filled": true, "opacity": 1, "strokeWidth": 0},
         "encoding": {
           "size": {"field": "w", "type": "quantitative", "scale": {"type": "pow", "exponent": 2, "domain": [0, 0.5], "range": [0, 13924]}, "legend": null},
           "shape": {"field": "k", "type": "nominal", "scale": {"domain": ["s", "r", "c"], "range": ["square", "M-1,-0.5C-1,-0.84 -0.84,-1 -0.5,-1L0.5,-1C0.84,-1 1,-0.84 1,-0.5L1,0.5C1,0.84 0.84,1 0.5,1L-0.5,1C-0.84,1 -1,0.84 -1,0.5Z", "circle"]}, "legend": null},
           "color": {"field": "v", "type": "quantitative", "scale": {"domain": [0, 0.5, 1, 1.4, 1.725, 2.25, 2.75, 3.1, 3.4, 4, 4.5, 5], "range": ["#000000", "#230000", "#500000", "#850000", "#e00000", "#e44800", "#e68400", "#e7b000", "#e8e000", "#e8e470", "#e8e5a8", "#e9e6cc"], "interpolate": "rgb"}, "legend": null},
           "order": {"field": "w", "sort": "descending"}}},
        {"data": {"name": "frames"}, "transform": [{"filter": "datum.f === 'G'"}],
         "mark": {"type": "point", "shape": "square", "filled": false, "stroke": "#9a9a90", "strokeWidth": 1, "opacity": 1},
         "encoding": {"size": {"field": "w", "type": "quantitative", "scale": {"type": "pow", "exponent": 2, "domain": [0, 0.5], "range": [0, 13924]}, "legend": null}}}
      ]
    },
    {
      "width": 547, "height": 119,
      "encoding": {
        "x": {"field": "t", "type": "quantitative", "scale": {"domain": [53.19, 2235.37], "nice": false, "zero": false},
              "axis": {"values": [500, 1000, 1500, 2000], "labelExpr": "'t = ' + datum.value + ' s'", "domain": false, "ticks": false, "grid": false, "title": null, "labelFont": "Liberation Serif", "labelFontSize": 15, "labelColor": "#222222", "labelPadding": 7.5, "labelFlush": false, "labelOverlap": false}},
        "y": {"field": "f", "type": "nominal", "scale": {"type": "point"},
              "axis": {"title": "Temperature Gradient Magnitude Field", "titleAngle": 0, "titleX": 50, "titleY": -13.5, "titleAlign": "left", "titleBaseline": "alphabetic", "titleFont": "Liberation Serif", "titleFontSize": 20, "titleFontWeight": "normal", "titleColor": "#222222", "labels": false, "ticks": false, "domain": false, "grid": false, "minExtent": 0, "maxExtent": 0}}
      },
      "layer": [
        {"data": {"name": "fields"}, "transform": [{"filter": "datum.p === 'b' && datum.f === 'G'"}],
         "mark": {"type": "point", "filled": true, "opacity": 1, "strokeWidth": 0},
         "encoding": {
           "size": {"field": "w", "type": "quantitative", "scale": {"type": "pow", "exponent": 2, "domain": [0, 0.5], "range": [0, 13924]}, "legend": null},
           "shape": {"field": "k", "type": "nominal", "scale": {"domain": ["s", "r", "c"], "range": ["square", "M-1,-0.5C-1,-0.84 -0.84,-1 -0.5,-1L0.5,-1C0.84,-1 1,-0.84 1,-0.5L1,0.5C1,0.84 0.84,1 0.5,1L-0.5,1C-0.84,1 -1,0.84 -1,0.5Z", "circle"]}, "legend": null},
           "color": {"field": "v", "type": "quantitative", "scale": {"domain": [0, 0.5, 1, 1.4, 1.725, 2.25, 2.75, 3.1, 3.4, 4, 4.5, 5], "range": ["#000000", "#230000", "#500000", "#850000", "#e00000", "#e44800", "#e68400", "#e7b000", "#e8e000", "#e8e470", "#e8e5a8", "#e9e6cc"], "interpolate": "rgb"}, "legend": null},
           "order": {"field": "w", "sort": "descending"}}},
        {"data": {"name": "frames"}, "transform": [{"filter": "datum.f === 'G'"}],
         "mark": {"type": "point", "shape": "square", "filled": false, "stroke": "#9a9a90", "strokeWidth": 1, "opacity": 1},
         "encoding": {"size": {"field": "w", "type": "quantitative", "scale": {"type": "pow", "exponent": 2, "domain": [0, 0.5], "range": [0, 13924]}, "legend": null}}}
      ]
    },
    {
      "width": 559, "height": 18,
      "data": {"name": "bars"},
      "transform": [{"filter": "datum.f === 'G'"}],
      "layer": [
        {"mark": {"type": "rect", "fill": {"gradient": "linear", "stops": [{"offset": 0, "color": "#000000"}, {"offset": 0.1, "color": "#260000"}, {"offset": 0.2, "color": "#560000"}, {"offset": 0.28, "color": "#900000"}, {"offset": 0.345, "color": "#ff0000"}, {"offset": 0.45, "color": "#ff5000"}, {"offset": 0.55, "color": "#ff9000"}, {"offset": 0.62, "color": "#ffc000"}, {"offset": 0.68, "color": "#ffff00"}, {"offset": 0.8, "color": "#ffff80"}, {"offset": 0.9, "color": "#ffffc0"}, {"offset": 1, "color": "#ffffff"}]}, "stroke": "#8c8c8c", "strokeWidth": 1},
         "encoding": {
           "x": {"field": "lo", "type": "quantitative", "scale": {"domain": [-1.07792, 6.18182], "nice": false, "zero": false},
                 "axis": {"values": [0.5, 1, 1.5, 2, 2.5, 3, 3.5, 4, 4.5], "labels": false, "domain": false, "ticks": true, "tickSize": -4, "tickColor": "#555555", "tickWidth": 1, "grid": true, "gridDash": [4, 10], "gridColor": "#555555", "gridWidth": 1, "gridOpacity": 1, "zindex": 1, "title": "Temperature Gradient Magnitude [˚C/mm]", "titleFont": "Liberation Serif", "titleFontSize": 15, "titleFontWeight": "normal", "titleColor": "#222222", "titlePadding": 7, "titleX": 275.5}},
           "x2": {"field": "hi"}}},
        {"mark": {"type": "text", "align": "right", "dx": -14, "font": "Liberation Serif", "fontSize": 15, "color": "#222222"},
         "encoding": {"x": {"field": "lo", "type": "quantitative"}, "text": {"field": "lt"}}},
        {"mark": {"type": "text", "align": "left", "dx": 20, "font": "Liberation Serif", "fontSize": 15, "color": "#222222"},
         "encoding": {"x": {"field": "hi", "type": "quantitative"}, "text": {"field": "ht"}}}
      ]
    },
    {
      "width": 547, "height": 18,
      "data": {"name": "bars"},
      "transform": [{"filter": "datum.f === 'G'"}],
      "layer": [
        {"mark": {"type": "rect", "fill": {"gradient": "linear", "stops": [{"offset": 0, "color": "#000000"}, {"offset": 0.1, "color": "#260000"}, {"offset": 0.2, "color": "#560000"}, {"offset": 0.28, "color": "#900000"}, {"offset": 0.345, "color": "#ff0000"}, {"offset": 0.45, "color": "#ff5000"}, {"offset": 0.55, "color": "#ff9000"}, {"offset": 0.62, "color": "#ffc000"}, {"offset": 0.68, "color": "#ffff00"}, {"offset": 0.8, "color": "#ffff80"}, {"offset": 0.9, "color": "#ffffc0"}, {"offset": 1, "color": "#ffffff"}]}, "stroke": "#8c8c8c", "strokeWidth": 1},
         "encoding": {
           "x": {"field": "lo", "type": "quantitative", "scale": {"domain": [-1.28571, 5.81818], "nice": false, "zero": false},
                 "axis": {"values": [0.5, 1, 1.5, 2, 2.5, 3, 3.5, 4, 4.5], "labels": false, "domain": false, "ticks": true, "tickSize": -4, "tickColor": "#555555", "tickWidth": 1, "grid": true, "gridDash": [4, 10], "gridColor": "#555555", "gridWidth": 1, "gridOpacity": 1, "zindex": 1, "title": "Temperature Gradient Magnitude [˚C/mm]", "titleFont": "Liberation Serif", "titleFontSize": 15, "titleFontWeight": "normal", "titleColor": "#222222", "titlePadding": 7, "titleX": 291.5}},
           "x2": {"field": "hi"}}},
        {"mark": {"type": "text", "align": "right", "dx": -12, "font": "Liberation Serif", "fontSize": 15, "color": "#222222"},
         "encoding": {"x": {"field": "lo", "type": "quantitative"}, "text": {"field": "lt"}}},
        {"mark": {"type": "text", "align": "left", "dx": 18, "font": "Liberation Serif", "fontSize": 15, "color": "#222222"},
         "encoding": {"x": {"field": "hi", "type": "quantitative"}, "text": {"field": "ht"}}}
      ]
    },
    {
      "width": 559, "height": 119,
      "encoding": {
        "x": {"field": "t", "type": "quantitative", "scale": {"domain": [106.06, 2223.48], "nice": false, "zero": false},
              "axis": {"values": [500, 1000, 1500, 2000], "labelExpr": "'t = ' + datum.value + ' s'", "domain": false, "ticks": false, "grid": false, "title": null, "labelFont": "Liberation Serif", "labelFontSize": 15, "labelColor": "#222222", "labelPadding": 0.5, "labelFlush": false, "labelOverlap": false}},
        "y": {"field": "f", "type": "nominal", "scale": {"type": "point"},
              "axis": {"title": "Cooling Rate Field", "titleAngle": 0, "titleX": 51, "titleY": -13.5, "titleAlign": "left", "titleBaseline": "alphabetic", "titleFont": "Liberation Serif", "titleFontSize": 20, "titleFontWeight": "normal", "titleColor": "#222222", "labels": false, "ticks": false, "domain": false, "grid": false, "minExtent": 0, "maxExtent": 0}}
      },
      "layer": [
        {"data": {"name": "fields"}, "transform": [{"filter": "datum.p === 'a' && datum.f === 'C'"}],
         "mark": {"type": "point", "filled": true, "opacity": 1, "strokeWidth": 0},
         "encoding": {
           "size": {"field": "w", "type": "quantitative", "scale": {"type": "pow", "exponent": 2, "domain": [0, 0.5], "range": [0, 13924]}, "legend": null},
           "shape": {"field": "k", "type": "nominal", "scale": {"domain": ["s", "r", "c"], "range": ["square", "M-1,-0.5C-1,-0.84 -0.84,-1 -0.5,-1L0.5,-1C0.84,-1 1,-0.84 1,-0.5L1,0.5C1,0.84 0.84,1 0.5,1L-0.5,1C-0.84,1 -1,0.84 -1,0.5Z", "circle"]}, "legend": null},
           "color": {"field": "v", "type": "quantitative", "scale": {"domain": [-1.5, -1.35, -1.2, -1.08, -0.9825, -0.825, -0.675, -0.57, -0.48, -0.3, -0.15, 0], "range": ["#000000", "#230000", "#500000", "#850000", "#e00000", "#e44800", "#e68400", "#e7b000", "#e8e000", "#e8e470", "#e8e5a8", "#e9e6cc"], "interpolate": "rgb"}, "legend": null},
           "order": {"field": "w", "sort": "descending"}}},
        {"data": {"name": "frames"}, "transform": [{"filter": "datum.f === 'C'"}],
         "mark": {"type": "point", "shape": "square", "filled": false, "stroke": "#9a9a90", "strokeWidth": 1, "opacity": 1},
         "encoding": {"size": {"field": "w", "type": "quantitative", "scale": {"type": "pow", "exponent": 2, "domain": [0, 0.5], "range": [0, 13924]}, "legend": null}}}
      ]
    },
    {
      "width": 547, "height": 119,
      "encoding": {
        "x": {"field": "t", "type": "quantitative", "scale": {"domain": [53.19, 2235.37], "nice": false, "zero": false},
              "axis": {"values": [500, 1000, 1500, 2000], "labelExpr": "'t = ' + datum.value + ' s'", "domain": false, "ticks": false, "grid": false, "title": null, "labelFont": "Liberation Serif", "labelFontSize": 15, "labelColor": "#222222", "labelPadding": 0.5, "labelFlush": false, "labelOverlap": false}},
        "y": {"field": "f", "type": "nominal", "scale": {"type": "point"},
              "axis": {"title": "Cooling Rate Field", "titleAngle": 0, "titleX": 52, "titleY": -13.5, "titleAlign": "left", "titleBaseline": "alphabetic", "titleFont": "Liberation Serif", "titleFontSize": 20, "titleFontWeight": "normal", "titleColor": "#222222", "labels": false, "ticks": false, "domain": false, "grid": false, "minExtent": 0, "maxExtent": 0}}
      },
      "layer": [
        {"data": {"name": "fields"}, "transform": [{"filter": "datum.p === 'b' && datum.f === 'C'"}],
         "mark": {"type": "point", "filled": true, "opacity": 1, "strokeWidth": 0},
         "encoding": {
           "size": {"field": "w", "type": "quantitative", "scale": {"type": "pow", "exponent": 2, "domain": [0, 0.5], "range": [0, 13924]}, "legend": null},
           "shape": {"field": "k", "type": "nominal", "scale": {"domain": ["s", "r", "c"], "range": ["square", "M-1,-0.5C-1,-0.84 -0.84,-1 -0.5,-1L0.5,-1C0.84,-1 1,-0.84 1,-0.5L1,0.5C1,0.84 0.84,1 0.5,1L-0.5,1C-0.84,1 -1,0.84 -1,0.5Z", "circle"]}, "legend": null},
           "color": {"field": "v", "type": "quantitative", "scale": {"domain": [-1.5, -1.35, -1.2, -1.08, -0.9825, -0.825, -0.675, -0.57, -0.48, -0.3, -0.15, 0], "range": ["#000000", "#230000", "#500000", "#850000", "#e00000", "#e44800", "#e68400", "#e7b000", "#e8e000", "#e8e470", "#e8e5a8", "#e9e6cc"], "interpolate": "rgb"}, "legend": null},
           "order": {"field": "w", "sort": "descending"}}},
        {"data": {"name": "frames"}, "transform": [{"filter": "datum.f === 'C'"}],
         "mark": {"type": "point", "shape": "square", "filled": false, "stroke": "#9a9a90", "strokeWidth": 1, "opacity": 1},
         "encoding": {"size": {"field": "w", "type": "quantitative", "scale": {"type": "pow", "exponent": 2, "domain": [0, 0.5], "range": [0, 13924]}, "legend": null}}}
      ]
    },
    {
      "width": 559, "height": 18,
      "data": {"name": "bars"},
      "transform": [{"filter": "datum.f === 'C'"}],
      "layer": [
        {"mark": {"type": "rect", "fill": {"gradient": "linear", "stops": [{"offset": 0, "color": "#000000"}, {"offset": 0.1, "color": "#260000"}, {"offset": 0.2, "color": "#560000"}, {"offset": 0.28, "color": "#900000"}, {"offset": 0.345, "color": "#ff0000"}, {"offset": 0.45, "color": "#ff5000"}, {"offset": 0.55, "color": "#ff9000"}, {"offset": 0.62, "color": "#ffc000"}, {"offset": 0.68, "color": "#ffff00"}, {"offset": 0.8, "color": "#ffff80"}, {"offset": 0.9, "color": "#ffffc0"}, {"offset": 1, "color": "#ffffff"}]}, "stroke": "#8c8c8c", "strokeWidth": 1},
         "encoding": {
           "x": {"field": "lo", "type": "quantitative", "scale": {"domain": [-1.82197, 0.29545], "nice": false, "zero": false},
                 "axis": {"values": [-1.35, -1.2, -1.05, -0.9, -0.75, -0.6, -0.45, -0.3, -0.15], "labels": false, "domain": false, "ticks": true, "tickSize": -4, "tickColor": "#555555", "tickWidth": 1, "grid": true, "gridDash": [4, 10], "gridColor": "#555555", "gridWidth": 1, "gridOpacity": 1, "zindex": 1, "title": "Cooling Rate [˚C/s]", "titleFont": "Liberation Serif", "titleFontSize": 15, "titleFontWeight": "normal", "titleColor": "#222222", "titlePadding": 8, "titleX": 283}},
           "x2": {"field": "hi"}}},
        {"mark": {"type": "text", "align": "right", "dx": -10, "font": "Liberation Serif", "fontSize": 15, "color": "#222222"},
         "encoding": {"x": {"field": "lo", "type": "quantitative"}, "text": {"field": "lt"}}},
        {"mark": {"type": "text", "align": "left", "dx": 20, "font": "Liberation Serif", "fontSize": 15, "color": "#222222"},
         "encoding": {"x": {"field": "hi", "type": "quantitative"}, "text": {"field": "ht"}}}
      ]
    },
    {
      "width": 547, "height": 18,
      "data": {"name": "bars"},
      "transform": [{"filter": "datum.f === 'C'"}],
      "layer": [
        {"mark": {"type": "rect", "fill": {"gradient": "linear", "stops": [{"offset": 0, "color": "#000000"}, {"offset": 0.1, "color": "#260000"}, {"offset": 0.2, "color": "#560000"}, {"offset": 0.28, "color": "#900000"}, {"offset": 0.345, "color": "#ff0000"}, {"offset": 0.45, "color": "#ff5000"}, {"offset": 0.55, "color": "#ff9000"}, {"offset": 0.62, "color": "#ffc000"}, {"offset": 0.68, "color": "#ffff00"}, {"offset": 0.8, "color": "#ffff80"}, {"offset": 0.9, "color": "#ffffc0"}, {"offset": 1, "color": "#ffffff"}]}, "stroke": "#8c8c8c", "strokeWidth": 1},
         "encoding": {
           "x": {"field": "lo", "type": "quantitative", "scale": {"domain": [-1.83418, 0.24304], "nice": false, "zero": false},
                 "axis": {"values": [-1.35, -1.2, -1.05, -0.9, -0.75, -0.6, -0.45, -0.3, -0.15], "labels": false, "domain": false, "ticks": true, "tickSize": -4, "tickColor": "#555555", "tickWidth": 1, "grid": true, "gridDash": [4, 10], "gridColor": "#555555", "gridWidth": 1, "gridOpacity": 1, "zindex": 1, "title": "Cooling Rate [˚C/s]", "titleFont": "Liberation Serif", "titleFontSize": 15, "titleFontWeight": "normal", "titleColor": "#222222", "titlePadding": 8, "titleX": 285.5}},
           "x2": {"field": "hi"}}},
        {"mark": {"type": "text", "align": "right", "dx": -11, "font": "Liberation Serif", "fontSize": 15, "color": "#222222"},
         "encoding": {"x": {"field": "lo", "type": "quantitative"}, "text": {"field": "lt"}}},
        {"mark": {"type": "text", "align": "left", "dx": 19, "font": "Liberation Serif", "fontSize": 15, "color": "#222222"},
         "encoding": {"x": {"field": "hi", "type": "quantitative"}, "text": {"field": "ht"}}}
      ]
    },
    {
      "width": 559, "height": 119,
      "encoding": {
        "x": {"field": "t", "type": "quantitative", "scale": {"domain": [106.06, 2223.48], "nice": false, "zero": false},
              "axis": {"values": [500, 1000, 1500, 2000], "labelExpr": "'t = ' + datum.value + ' s'", "domain": false, "ticks": false, "grid": false, "title": null, "labelFont": "Liberation Serif", "labelFontSize": 15, "labelColor": "#222222", "labelPadding": 6.5, "labelFlush": false, "labelOverlap": false}},
        "y": {"field": "f", "type": "nominal", "scale": {"type": "point"},
              "axis": {"title": "Liquid Fraction Field", "titleAngle": 0, "titleX": 51, "titleY": -11.5, "titleAlign": "left", "titleBaseline": "alphabetic", "titleFont": "Liberation Serif", "titleFontSize": 20, "titleFontWeight": "normal", "titleColor": "#222222", "labels": false, "ticks": false, "domain": false, "grid": false, "minExtent": 0, "maxExtent": 0}}
      },
      "layer": [
        {"data": {"name": "fields"}, "transform": [{"filter": "datum.p === 'a' && datum.f === 'L'"}],
         "mark": {"type": "point", "filled": true, "opacity": 1, "strokeWidth": 0},
         "encoding": {
           "size": {"field": "w", "type": "quantitative", "scale": {"type": "pow", "exponent": 2, "domain": [0, 0.5], "range": [0, 13924]}, "legend": null},
           "shape": {"field": "k", "type": "nominal", "scale": {"domain": ["s", "r", "c"], "range": ["square", "M-1,-0.5C-1,-0.84 -0.84,-1 -0.5,-1L0.5,-1C0.84,-1 1,-0.84 1,-0.5L1,0.5C1,0.84 0.84,1 0.5,1L-0.5,1C-0.84,1 -1,0.84 -1,0.5Z", "circle"]}, "legend": null},
           "color": {"field": "v", "type": "quantitative", "scale": {"domain": [0, 0.1, 0.2, 0.28, 0.345, 0.45, 0.55, 0.62, 0.68, 0.8, 0.9, 1], "range": ["#000000", "#230000", "#500000", "#850000", "#e00000", "#e44800", "#e68400", "#e7b000", "#e8e000", "#e8e470", "#e8e5a8", "#e9e6cc"], "interpolate": "rgb"}, "legend": null},
           "order": {"field": "w", "sort": "descending"}}},
        {"data": {"name": "frames"}, "transform": [{"filter": "datum.f === 'L'"}],
         "mark": {"type": "point", "shape": "square", "filled": false, "stroke": "#9a9a90", "strokeWidth": 1, "opacity": 1},
         "encoding": {"size": {"field": "w", "type": "quantitative", "scale": {"type": "pow", "exponent": 2, "domain": [0, 0.5], "range": [0, 13924]}, "legend": null}}}
      ]
    },
    {
      "width": 547, "height": 119,
      "encoding": {
        "x": {"field": "t", "type": "quantitative", "scale": {"domain": [53.19, 2235.37], "nice": false, "zero": false},
              "axis": {"values": [500, 1000, 1500, 2000], "labelExpr": "'t = ' + datum.value + ' s'", "domain": false, "ticks": false, "grid": false, "title": null, "labelFont": "Liberation Serif", "labelFontSize": 15, "labelColor": "#222222", "labelPadding": 6.5, "labelFlush": false, "labelOverlap": false}},
        "y": {"field": "f", "type": "nominal", "scale": {"type": "point"},
              "axis": {"title": "Liquid Fraction Field", "titleAngle": 0, "titleX": 52, "titleY": -11.5, "titleAlign": "left", "titleBaseline": "alphabetic", "titleFont": "Liberation Serif", "titleFontSize": 20, "titleFontWeight": "normal", "titleColor": "#222222", "labels": false, "ticks": false, "domain": false, "grid": false, "minExtent": 0, "maxExtent": 0}}
      },
      "layer": [
        {"data": {"name": "fields"}, "transform": [{"filter": "datum.p === 'b' && datum.f === 'L'"}],
         "mark": {"type": "point", "filled": true, "opacity": 1, "strokeWidth": 0},
         "encoding": {
           "size": {"field": "w", "type": "quantitative", "scale": {"type": "pow", "exponent": 2, "domain": [0, 0.5], "range": [0, 13924]}, "legend": null},
           "shape": {"field": "k", "type": "nominal", "scale": {"domain": ["s", "r", "c"], "range": ["square", "M-1,-0.5C-1,-0.84 -0.84,-1 -0.5,-1L0.5,-1C0.84,-1 1,-0.84 1,-0.5L1,0.5C1,0.84 0.84,1 0.5,1L-0.5,1C-0.84,1 -1,0.84 -1,0.5Z", "circle"]}, "legend": null},
           "color": {"field": "v", "type": "quantitative", "scale": {"domain": [0, 0.1, 0.2, 0.28, 0.345, 0.45, 0.55, 0.62, 0.68, 0.8, 0.9, 1], "range": ["#000000", "#230000", "#500000", "#850000", "#e00000", "#e44800", "#e68400", "#e7b000", "#e8e000", "#e8e470", "#e8e5a8", "#e9e6cc"], "interpolate": "rgb"}, "legend": null},
           "order": {"field": "w", "sort": "descending"}}},
        {"data": {"name": "frames"}, "transform": [{"filter": "datum.f === 'L'"}],
         "mark": {"type": "point", "shape": "square", "filled": false, "stroke": "#9a9a90", "strokeWidth": 1, "opacity": 1},
         "encoding": {"size": {"field": "w", "type": "quantitative", "scale": {"type": "pow", "exponent": 2, "domain": [0, 0.5], "range": [0, 13924]}, "legend": null}}}
      ]
    },
    {
      "width": 559, "height": 18,
      "data": {"name": "bars"},
      "transform": [{"filter": "datum.f === 'L'"}],
      "layer": [
        {"mark": {"type": "rect", "fill": {"gradient": "linear", "stops": [{"offset": 0, "color": "#000000"}, {"offset": 0.1, "color": "#260000"}, {"offset": 0.2, "color": "#560000"}, {"offset": 0.28, "color": "#900000"}, {"offset": 0.345, "color": "#ff0000"}, {"offset": 0.45, "color": "#ff5000"}, {"offset": 0.55, "color": "#ff9000"}, {"offset": 0.62, "color": "#ffc000"}, {"offset": 0.68, "color": "#ffff00"}, {"offset": 0.8, "color": "#ffff80"}, {"offset": 0.9, "color": "#ffffc0"}, {"offset": 1, "color": "#ffffff"}]}, "stroke": "#8c8c8c", "strokeWidth": 1},
         "encoding": {
           "x": {"field": "lo", "type": "quantitative", "scale": {"domain": [-0.21266, 1.20253], "nice": false, "zero": false},
                 "axis": {"values": [0.1, 0.2, 0.3, 0.4, 0.5, 0.6, 0.7, 0.8, 0.9], "labels": false, "domain": false, "ticks": true, "tickSize": -4, "tickColor": "#555555", "tickWidth": 1, "grid": true, "gridDash": [4, 10], "gridColor": "#555555", "gridWidth": 1, "gridOpacity": 1, "zindex": 1, "title": "Liquid Fraction [-]", "titleFont": "Liberation Serif", "titleFontSize": 15, "titleFontWeight": "normal", "titleColor": "#222222", "titlePadding": 6.5, "titleX": 281.5}},
           "x2": {"field": "hi"}}},
        {"mark": {"type": "text", "align": "right", "dx": -13, "font": "Liberation Serif", "fontSize": 15, "color": "#222222"},
         "encoding": {"x": {"field": "lo", "type": "quantitative"}, "text": {"field": "lt"}}},
        {"mark": {"type": "text", "align": "left", "dx": 19, "font": "Liberation Serif", "fontSize": 15, "color": "#222222"},
         "encoding": {"x": {"field": "hi", "type": "quantitative"}, "text": {"field": "ht"}}}
      ]
    },
    {
      "width": 547, "height": 18,
      "data": {"name": "bars"},
      "transform": [{"filter": "datum.f === 'L'"}],
      "layer": [
        {"mark": {"type": "rect", "fill": {"gradient": "linear", "stops": [{"offset": 0, "color": "#000000"}, {"offset": 0.1, "color": "#260000"}, {"offset": 0.2, "color": "#560000"}, {"offset": 0.28, "color": "#900000"}, {"offset": 0.345, "color": "#ff0000"}, {"offset": 0.45, "color": "#ff5000"}, {"offset": 0.55, "color": "#ff9000"}, {"offset": 0.62, "color": "#ffc000"}, {"offset": 0.68, "color": "#ffff00"}, {"offset": 0.8, "color": "#ffff80"}, {"offset": 0.9, "color": "#ffffc0"}, {"offset": 1, "color": "#ffffff"}]}, "stroke": "#8c8c8c", "strokeWidth": 1},
         "encoding": {
           "x": {"field": "lo", "type": "quantitative", "scale": {"domain": [-0.21717, 1.16414], "nice": false, "zero": false},
                 "axis": {"values": [0.1, 0.2, 0.3, 0.4, 0.5, 0.6, 0.7, 0.8, 0.9], "labels": false, "domain": false, "ticks": true, "tickSize": -4, "tickColor": "#555555", "tickWidth": 1, "grid": true, "gridDash": [4, 10], "gridColor": "#555555", "gridWidth": 1, "gridOpacity": 1, "zindex": 1, "title": "Liquid Fraction [-]", "titleFont": "Liberation Serif", "titleFontSize": 15, "titleFontWeight": "normal", "titleColor": "#222222", "titlePadding": 6.5, "titleX": 284}},
           "x2": {"field": "hi"}}},
        {"mark": {"type": "text", "align": "right", "dx": -9, "font": "Liberation Serif", "fontSize": 15, "color": "#222222"},
         "encoding": {"x": {"field": "lo", "type": "quantitative"}, "text": {"field": "lt"}}},
        {"mark": {"type": "text", "align": "left", "dx": 15, "font": "Liberation Serif", "fontSize": 15, "color": "#222222"},
         "encoding": {"x": {"field": "hi", "type": "quantitative"}, "text": {"field": "ht"}}}
      ]
    }
  ]
}
